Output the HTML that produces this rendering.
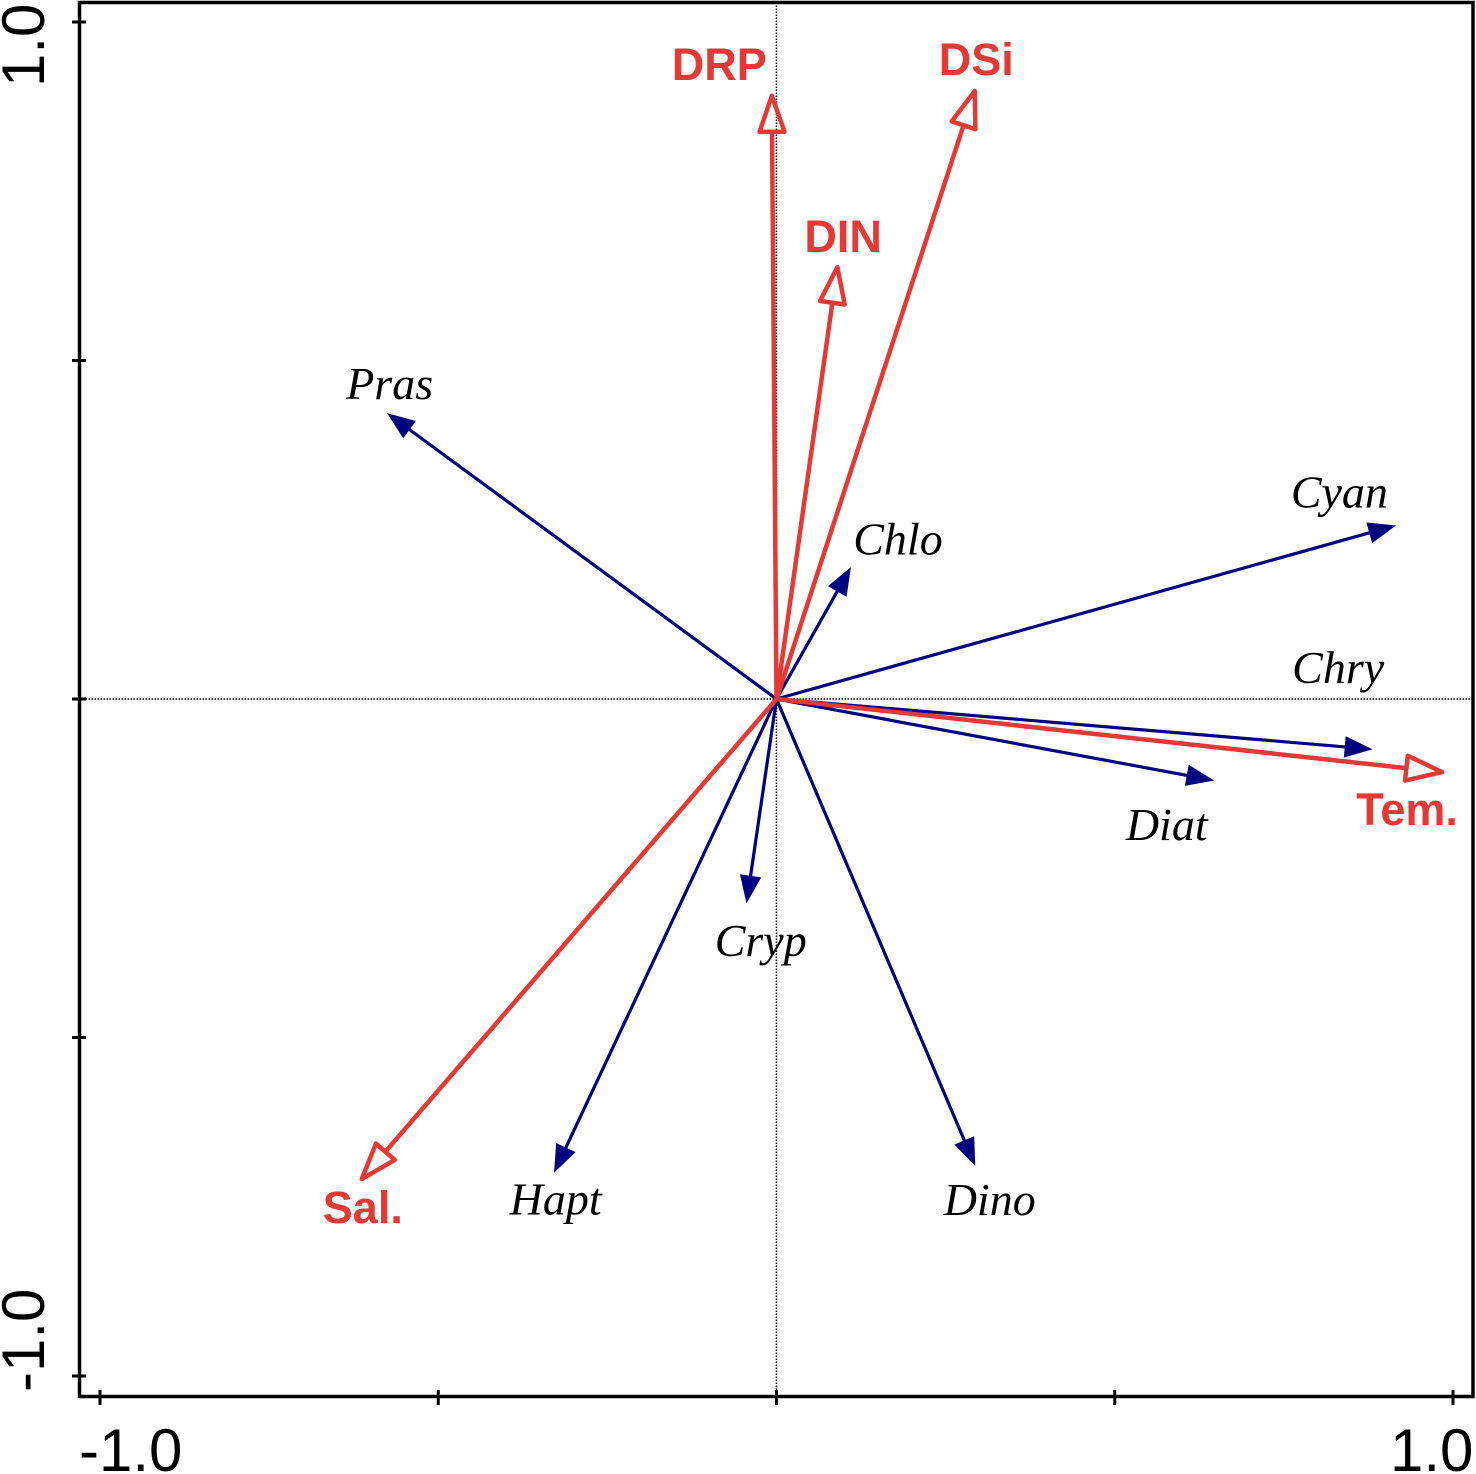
<!DOCTYPE html>
<html>
<head>
<meta charset="utf-8">
<title>Ordination biplot</title>
<style>
html,body{margin:0;padding:0;background:#fff;}
svg{display:block;}
</style>
</head>
<body>
<svg id="chart" xmlns="http://www.w3.org/2000/svg" width="1476" height="1474" viewBox="0 0 1476 1474">
  <rect x="0" y="0" width="1476" height="1474" fill="#fff"/>
  <g id="guides"></g>
  <rect x="79.5" y="2.5" width="1393.5" height="1394" fill="none" stroke="#000" stroke-width="3.5"/>
  <g id="ticks"></g>
  <g font-family="'Liberation Sans',sans-serif" font-size="60" fill="#000">
    <text transform="translate(44 87) rotate(-90)">1.0</text>
    <text transform="translate(44 1392) rotate(-90)">-1.0</text>
    <text x="79" y="1471">-1.0</text>
    <text x="1390" y="1471">1.0</text>
  </g>
  <g id="species"></g>
  <g id="env"></g>
</svg>
<script>
const speciesNames = ['Pras','Cyan','Chlo','Chry','Diat','Cryp','Hapt','Dino'];
const speciesX = [-0.574, 0.914, 0.109, 0.879, 0.645, -0.044, -0.328, 0.293];
const speciesY = [0.421, 0.256, 0.193, -0.074, -0.120, -0.300, -0.698, -0.688];
const envNames = ['DRP','DSi','DIN','Tem.','Sal.'];
const envX = [-0.007, 0.293, 0.090, 0.984, -0.613];
const envY = [0.891, 0.898, 0.638, -0.108, -0.709];
const tickValues = [-1, -0.5, 0, 0.5, 1];

const LABEL_OFFSET = {
  Pras:[-42,-15], Cyan:[-104,-18], Chlo:[3,-14], Chry:[-79,-66],
  Diat:[-87,60], Cryp:[-32,54], Hapt:[-45,43], Dino:[-31,50],
  'DRP':[-100,-16], 'DSi':[-36,-16], 'DIN':[-33,-15], 'Tem.':[-86,53], 'Sal.':[-39,44]
};

const NS = 'http://www.w3.org/2000/svg';
function sx(v){ return 776.5 + v * 676.5; }
function sy(v){ return 699 - v * 677; }
function make(parent, tag, attrs){
  const el = document.createElementNS(NS, tag);
  for (const k in attrs) el.setAttribute(k, attrs[k]);
  parent.appendChild(el);
  return el;
}
function headPoints(x2, y2, len, half){
  const a = Math.atan2(y2 - sy(0), x2 - sx(0));
  const bx = x2 - len * Math.cos(a), by = y2 - len * Math.sin(a);
  const nx = -Math.sin(a), ny = Math.cos(a);
  return { base:[bx,by], pts:[x2,y2, bx+nx*half,by+ny*half, bx-nx*half,by-ny*half].map(n=>n.toFixed(1)).join(' ') };
}

const guides = document.getElementById('guides');
const hGuide = make(guides, 'line', {x1:79.5, x2:1473, y1:sy(0), y2:sy(0), stroke:'#000', 'stroke-width':1.5, 'stroke-dasharray':'1.5 1.5'});


const vGuide = make(guides, 'line', {x1:sx(0), x2:sx(0), y1:2.5, y2:1396.5, stroke:'#000', 'stroke-width':1.5, 'stroke-dasharray':'1.5 1.5'});



const ticks = document.getElementById('ticks');
tickValues.forEach(function(t){
  const xt = make(ticks, 'line', {x1:sx(t), x2:sx(t), y1:1390, y2:1405, stroke:'#000', 'stroke-width':3});
  
  
  const yt = make(ticks, 'line', {x1:72, x2:86, y1:sy(t), y2:sy(t), stroke:'#000', 'stroke-width':3});
  
  
});

const speciesGroup = document.getElementById('species');
speciesNames.forEach(function(name, i){
  const x2 = sx(speciesX[i]), y2 = sy(speciesY[i]);
  const h = headPoints(x2, y2, 26, 10);
  const line = make(speciesGroup, 'line', {x1:sx(0), y1:sy(0), x2:h.base[0], y2:h.base[1], stroke:'#000080', 'stroke-width':3.2});
  
  
  const head = make(speciesGroup, 'polygon', {points:h.pts, fill:'#000080', stroke:'#000080', 'stroke-width':1});
  
  
  const off = LABEL_OFFSET[name];
  const label = make(speciesGroup, 'text', {x:x2+off[0], y:y2+off[1], fill:'#000', 'font-family':"'Liberation Serif',serif", 'font-style':'italic', 'font-size':46});
  
  
  label.textContent = name;
});

const envGroup = document.getElementById('env');
envNames.forEach(function(name, i){
  const x2 = sx(envX[i]), y2 = sy(envY[i]);
  const h = headPoints(x2, y2, 36, 12.5);
  const line = make(envGroup, 'line', {x1:sx(0), y1:sy(0), x2:h.base[0], y2:h.base[1], stroke:'#e53935', 'stroke-width':4.5});
  
  
  const head = make(envGroup, 'polygon', {points:h.pts, fill:'#fff', 'fill-opacity':0, stroke:'#e53935', 'stroke-width':4.5, 'stroke-linejoin':'round'});
  
  
  const off = LABEL_OFFSET[name];
  const label = make(envGroup, 'text', {x:x2+off[0], y:y2+off[1], fill:'#e53935', 'font-family':"'Liberation Sans',sans-serif", 'font-weight':'bold', 'font-size':45});
  
  
  label.textContent = name;
});
</script>
</body>
</html>
